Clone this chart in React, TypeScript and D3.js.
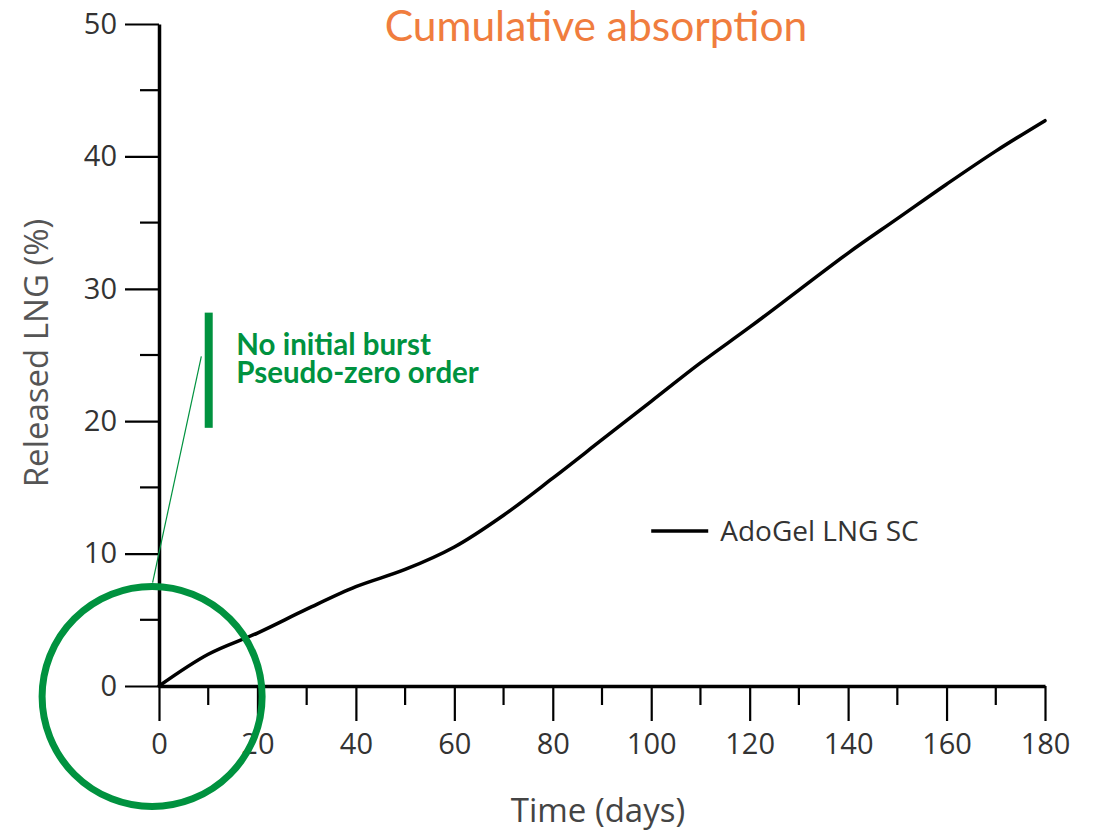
import { useEffect, useRef } from 'react';
import * as d3 from 'd3';

// release profile (days, % released)
const days = [0, 10, 20, 30, 40, 50, 60, 70, 80, 90, 100, 110, 120, 130, 140, 150, 160, 170, 180];
const released = [0, 2.4, 4.0, 5.8, 7.5, 8.8, 10.5, 12.9, 15.7, 18.6, 21.5, 24.4, 27.1, 29.9, 32.7, 35.3, 37.9, 40.4, 42.7];

const xMajor = [0, 20, 40, 60, 80, 100, 120, 140, 160, 180];
const xMinor = [10, 30, 50, 70, 90, 110, 130, 150, 170];
const yMajor = [0, 10, 20, 30, 40, 50];
const yMinor = [5, 15, 25, 35, 45];

const seriesName = 'AdoGel LNG SC';
const title = 'Cumulative absorption';
const noteLines = ['No initial burst', 'Pseudo-zero order'];

const W = 1093;
const H = 832;
const GREEN = '#00923f';
const TICK_FONT = '"Open Sans", "Noto Sans", sans-serif';

export default function App() {
  const svgRef = useRef<SVGSVGElement>(null);

  useEffect(() => {
    if (!svgRef.current) return;
    const svg = d3.select(svgRef.current);
    svg.selectAll('*').remove();

    const x = d3.scaleLinear().domain([0, 180]).range([159, 1045]);
    const y = d3.scaleLinear().domain([0, 50]).range([686, 24]);

    // axes
    const g = svg.append('g');
    const xAxis = g.append('g').attr('transform', `translate(0,${y(0)})`);
    xAxis
      .call(d3.axisBottom(x).tickValues(xMajor).tickSize(35).tickSizeOuter(0).tickPadding(12))
      .call((s) => s.select('.domain').attr('stroke-width', 3.5))
      .call((s) => s.selectAll('.tick line').attr('stroke-width', 2.2))
      .call((s) =>
        s.selectAll('.tick text')
          .attr('font-family', TICK_FONT)
          .attr('font-size', 29)
          .attr('fill', '#333')
      );
    xAxis
      .selectAll('.minor')
      .data(xMinor)
      .join('line')
      .attr('x1', (d) => x(d))
      .attr('x2', (d) => x(d))
      .attr('y1', 0)
      .attr('y2', 19)
      .attr('stroke', '#000')
      .attr('stroke-width', 2.2);

    const yAxis = g.append('g').attr('transform', `translate(${x(0)},0)`);
    yAxis
      .call(d3.axisLeft(y).tickValues(yMajor).tickSize(34).tickSizeOuter(0).tickPadding(8))
      .call((s) => s.select('.domain').attr('stroke-width', 3.5))
      .call((s) => s.selectAll('.tick line').attr('stroke-width', 2.2))
      .call((s) =>
        s.selectAll('.tick text')
          .attr('font-family', TICK_FONT)
          .attr('font-size', 29)
          .attr('fill', '#333')
      );
    yAxis
      .selectAll('.minor')
      .data(yMinor)
      .join('line')
      .attr('x1', 0)
      .attr('x2', -19)
      .attr('y1', (d) => y(d))
      .attr('y2', (d) => y(d))
      .attr('stroke', '#000')
      .attr('stroke-width', 2.2);

    // axis titles
    svg
      .append('text')
      .attr('x', 598)
      .attr('y', 822)
      .attr('text-anchor', 'middle')
      .attr('font-family', TICK_FONT)
      .attr('font-size', 33)
      .attr('fill', '#444')
      .text('Time (days)');

    svg
      .append('text')
      .attr('transform', 'translate(48,353) rotate(-90)')
      .attr('text-anchor', 'middle')
      .attr('font-family', TICK_FONT)
      .attr('font-size', 33)
      .attr('fill', '#555')
      .text('Released LNG (%)');

    // title
    svg
      .append('text')
      .attr('x', 596)
      .attr('y', 41)
      .attr('text-anchor', 'middle')
      .attr('font-family', 'Lato, sans-serif')
      .attr('font-size', 42.5)
      .attr('fill', '#f07d3e')
      .text(title);

    // release curve
    const pts = days.map((d, i) => [d, released[i]] as [number, number]);
    const line = d3
      .line<[number, number]>()
      .x((d) => x(d[0]))
      .y((d) => y(d[1]))
      .curve(d3.curveCatmullRom.alpha(0.5));
    svg
      .append('path')
      .attr('d', line(pts))
      .attr('fill', 'none')
      .attr('stroke', '#000')
      .attr('stroke-width', 3.5)
      .attr('stroke-linecap', 'round');

    // legend
    const lg = svg.append('g').attr('transform', `translate(${x(100)},${y(11.7)})`);
    lg.append('line').attr('x1', 0).attr('x2', 57).attr('stroke', '#000').attr('stroke-width', 3.5);
    lg.append('text')
      .attr('x', 69)
      .attr('y', 10)
      .attr('font-family', TICK_FONT)
      .attr('font-size', 28)
      .attr('fill', '#333')
      .text(seriesName);

    // annotation: circle on the origin, leader line, bar and notes
    svg
      .append('circle')
      .attr('cx', x(-1.4))
      .attr('cy', y(-0.8))
      .attr('r', 110)
      .attr('fill', 'none')
      .attr('stroke', GREEN)
      .attr('stroke-width', 7);
    svg
      .append('line')
      .attr('x1', x(8.6))
      .attr('y1', y(24.9))
      .attr('x2', x(-1.3))
      .attr('y2', y(7.8))
      .attr('stroke', GREEN)
      .attr('stroke-width', 1.2);
    svg
      .append('rect')
      .attr('x', x(10.1) - 4)
      .attr('y', y(28.2))
      .attr('width', 8)
      .attr('height', y(19.5) - y(28.2))
      .attr('fill', GREEN);
    svg
      .append('g')
      .selectAll('text')
      .data(noteLines)
      .join('text')
      .attr('x', x(15.7))
      .attr('y', (_, i) => 355 + i * 28)
      .attr('font-family', 'Lato, sans-serif')
      .attr('font-weight', 700)
      .attr('font-size', 29.5)
      .attr('fill', GREEN)
      .text((d) => d);
  }, []);

  return (
    <svg
      ref={svgRef}
      width={W}
      height={H}
      viewBox={`0 0 ${W} ${H}`}
      style={{ position: 'absolute', left: 0, top: 0, background: '#fff' }}
    />
  );
}
